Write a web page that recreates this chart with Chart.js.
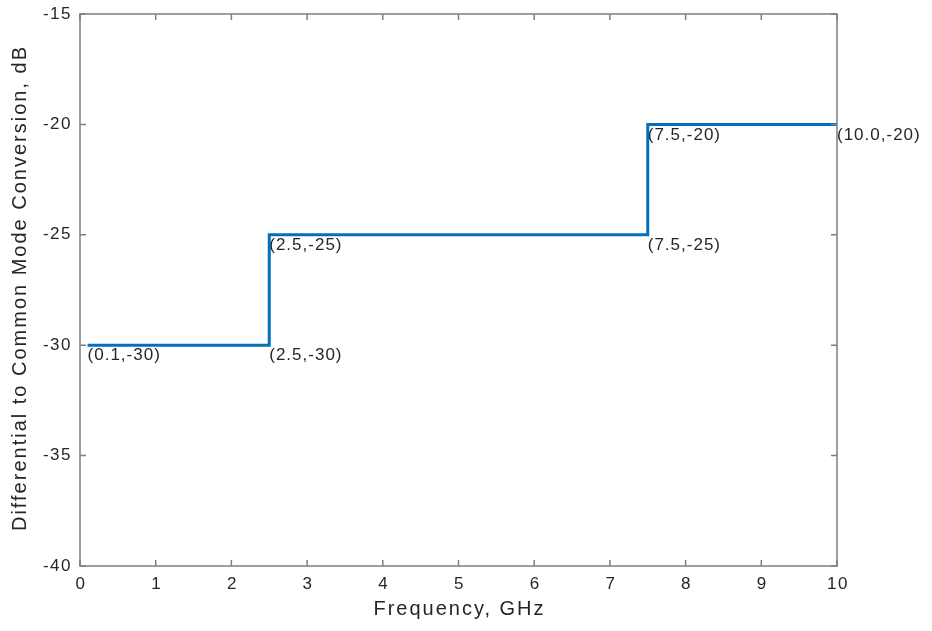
<!DOCTYPE html>
<html>
<head>
<meta charset="utf-8">
<script src="https://cdn.jsdelivr.net/npm/chart.js@4.4.0/dist/chart.umd.min.js"></script>
<style>
  html, body { margin: 0; padding: 0; background: #fff; }
  #wrap { width: 932px; height: 631px; }
</style>
</head>
<body>
<div id="wrap"><canvas id="maskChart"></canvas></div>
<script>
const freqValues = [0.1, 2.5, 2.5, 7.5, 7.5, 10.0];
const dbValues = [-30, -30, -25, -25, -20, -20];
const pointLabels = ["(0.1,-30)", "(2.5,-30)", "(2.5,-25)", "(7.5,-25)", "(7.5,-20)", "(10.0,-20)"];
const xTicks = [0, 1, 2, 3, 4, 5, 6, 7, 8, 9, 10];
const yTicks = [-40, -35, -30, -25, -20, -15];
const xTitle = "Frequency, GHz";
const yTitle = "Differential to Common Mode Conversion, dB";

const axisColor = "#7f7f7f";
const textColor = "#262626";
const fontFamily = "'Liberation Sans', Arial, Helvetica, sans-serif";

function drawText(ctx, text, x, y, size, spacing, align, baseline, angle) {
  ctx.save();
  ctx.translate(x, y);
  if (angle) ctx.rotate(angle);
  ctx.font = size + "px " + fontFamily;
  ctx.letterSpacing = spacing + "px";
  ctx.fillStyle = textColor;
  ctx.textAlign = align;
  ctx.textBaseline = baseline;
  ctx.fillText(text, 0, 0);
  ctx.restore();
}

// box round the plot, inward ticks on all four sides, and all the texts
const boxPlugin = {
  id: "boxPlugin",
  afterDraw(chart) {
    const ctx = chart.ctx;
    const a = chart.chartArea;
    const xs = chart.scales.x;
    const ys = chart.scales.y;
    const len = 6;
    ctx.save();
    ctx.strokeStyle = axisColor;
    ctx.lineWidth = 1.5;
    ctx.strokeRect(a.left, a.top, a.right - a.left, a.bottom - a.top);
    ctx.beginPath();
    xTicks.forEach(function (v) {
      const px = xs.getPixelForValue(v);
      ctx.moveTo(px, a.bottom); ctx.lineTo(px, a.bottom - len);
      ctx.moveTo(px, a.top); ctx.lineTo(px, a.top + len);
    });
    yTicks.forEach(function (v) {
      const py = ys.getPixelForValue(v);
      ctx.moveTo(a.left, py); ctx.lineTo(a.left + len, py);
      ctx.moveTo(a.right, py); ctx.lineTo(a.right - len, py);
    });
    ctx.stroke();
    ctx.restore();

    xTicks.forEach(function (v) {
      drawText(ctx, String(v), xs.getPixelForValue(v) + 1, a.bottom + 18, 17, 1.5, "center", "middle");
    });
    yTicks.forEach(function (v) {
      drawText(ctx, String(v), a.left - 8, ys.getPixelForValue(v), 17, 1.5, "right", "middle");
    });
    drawText(ctx, xTitle, (a.left + a.right) / 2 + 1, a.bottom + 43, 20, 2, "center", "middle");
    drawText(ctx, yTitle, 20, (a.top + a.bottom) / 2 - 2, 20, 2, "center", "middle", -Math.PI / 2);

    for (let i = 0; i < freqValues.length; i++) {
      const px = xs.getPixelForValue(freqValues[i]);
      const py = ys.getPixelForValue(dbValues[i]);
      drawText(ctx, pointLabels[i], px, py + 2, 17, 1, "left", "top");
    }
  },
};

new Chart("maskChart", {
  type: "line",
  data: {
    datasets: [
      {
        data: freqValues.map(function (f, i) { return { x: f, y: dbValues[i] }; }),
        borderColor: "#0072bd",
        borderWidth: 3,
        pointRadius: 0,
        fill: false,
        tension: 0,
      },
    ],
  },
  options: {
    responsive: true,
    maintainAspectRatio: false,
    animation: false,
    layout: { padding: { left: 0, top: 14, right: 95, bottom: 0 } },
    plugins: {
      legend: { display: false },
      tooltip: { enabled: false },
    },
    scales: {
      x: {
        type: "linear",
        min: 0,
        max: 10,
        afterFit(scale) { scale.height = 65; },
        grid: { display: false },
        border: { display: false },
        ticks: { display: false },
      },
      y: {
        type: "linear",
        min: -40,
        max: -15,
        afterFit(scale) { scale.width = 80; },
        grid: { display: false },
        border: { display: false },
        ticks: { display: false },
      },
    },
  },
  plugins: [boxPlugin],
});
</script>
</body>
</html>
